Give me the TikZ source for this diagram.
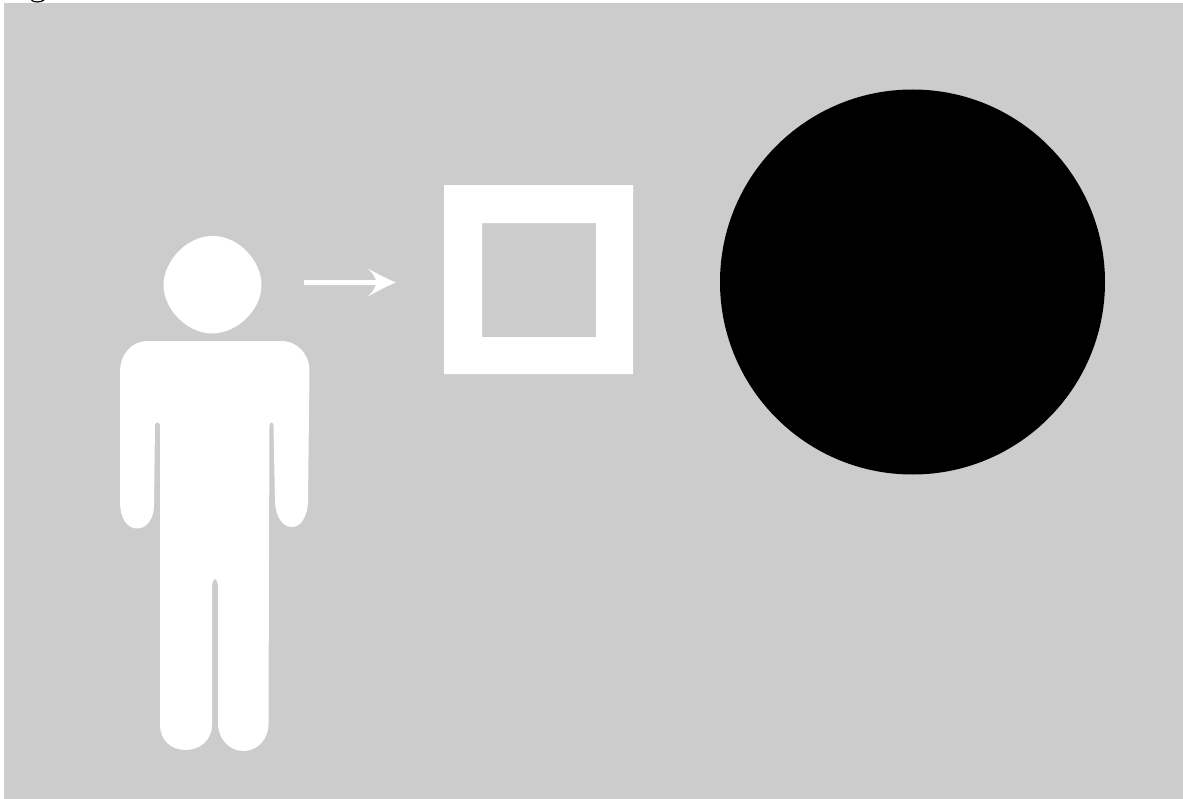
\documentclass[tikz,border=0pt]{standalone}
\definecolor{bggray}{RGB}{204,204,204}
\tikzset{
  figure/.style={fill=white,draw=none},
  px/.style={x=0.75pt,y=-0.75pt}
}
\begin{document}
\begin{tikzpicture}[px]
\useasboundingbox (0,0) rectangle (1183,799);
\fill[white] (0,0) rectangle (1183,799);
\fill[bggray] (4,3) rectangle (1183,799);
% cut-off glyph tail at the top
\draw[black,line width=0.9pt] (31.5,0) .. controls (33,2.6) and (41,2.6) .. (44,0);
% head
\fill[figure] (212.5,236) .. controls (240,236) and (261.5,262) .. (261.5,285)
  .. controls (261.5,310) and (237,333.5) .. (212,333.5)
  .. controls (188,333.5) and (163.5,310) .. (163.5,285)
  .. controls (163.5,262) and (186,236) .. (212.5,236) -- cycle;
% body with arms
\fill[figure] (148,341) -- (281,341)
  .. controls (298,341) and (310,355) .. (309.5,372)
  -- (308,500) .. controls (308,516) and (301,527) .. (292,527)
  .. controls (283,527) and (276,518) .. (275,502)
  -- (273.5,425) .. controls (273,421.5) and (270,421.5) .. (269.5,425)
  -- (269,560) -- (268.5,725)
  .. controls (268,740) and (257,751) .. (243.5,751)
  .. controls (230,751) and (219,740) .. (218,725)
  -- (218,585) .. controls (216.5,577) and (213.5,577) .. (212,585)
  -- (212,725)
  .. controls (212,740) and (200,750) .. (185.5,750)
  .. controls (171,750) and (160,740) .. (160,725)
  -- (160,425) .. controls (159.5,421.5) and (155.5,421.5) .. (155,425)
  -- (154,505) .. controls (154,520) and (146,528.5) .. (137,528.5)
  .. controls (127,528.5) and (120,518) .. (120,502)
  -- (120,372) .. controls (120,355) and (131,341) .. (148,341) -- cycle;
% arrow
\fill[figure] (304,280) -- (376,280)
  .. controls (374,275) and (371,271) .. (367,268)
  .. controls (376,273) and (387,279) .. (396,282.5)
  .. controls (387,286) and (376,292) .. (367,297)
  .. controls (371,294) and (374,290) .. (376,285)
  -- (304,285) -- cycle;
% square frame
\fill[figure,even odd rule] (444,185) rectangle (633,374) (482,223) rectangle (596,337);
% black disc
\fill[black] (912.5,282) circle [radius=192.5];
\end{tikzpicture}
\end{document}
